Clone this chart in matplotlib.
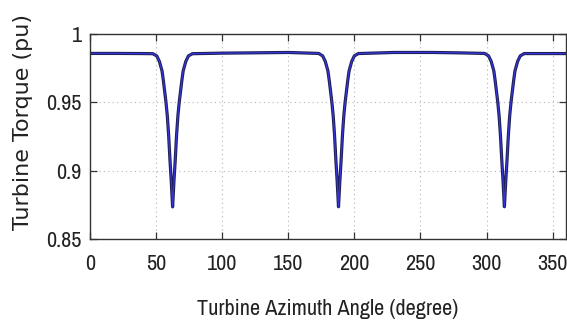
import matplotlib
matplotlib.use('Agg')
import matplotlib.pyplot as plt

# angle (degree) and torque (pu)
angle = [0, 20, 40, 47.5,
         50.5, 52.5, 54.5, 55.5, 56.5, 57.5, 58.5, 59.5, 60.5, 61.5, 62.5,
         63.5, 64.5, 65.5, 66.5, 67.5, 68.5, 69.5, 70.5, 72.5, 74.5, 77.5,
         100, 120, 150, 173,
         176, 178, 180, 181, 182, 183, 184, 185, 186, 187, 188,
         189, 190, 191, 192, 193, 194, 195, 196, 198, 200, 203,
         230, 260, 280, 298.5,
         301.5, 303.5, 305.5, 306.5, 307.5, 308.5, 309.5, 310.5, 311.5, 312.5, 313.5,
         314.5, 315.5, 316.5, 317.5, 318.5, 319.5, 320.5, 321.5, 323.5, 325.5, 328.5,
         345, 360]
torque = [0.9858, 0.9858, 0.9857, 0.9856,
          0.984, 0.980, 0.973, 0.966, 0.958, 0.950, 0.940, 0.926, 0.908, 0.892, 0.8735,
          0.892, 0.908, 0.926, 0.940, 0.950, 0.958, 0.966, 0.973, 0.980, 0.984, 0.9856,
          0.9860, 0.9862, 0.9865, 0.9858,
          0.984, 0.980, 0.973, 0.966, 0.958, 0.950, 0.940, 0.926, 0.908, 0.892, 0.8736,
          0.892, 0.908, 0.926, 0.940, 0.950, 0.958, 0.966, 0.973, 0.980, 0.984, 0.9857,
          0.9865, 0.9865, 0.9862, 0.9858,
          0.984, 0.980, 0.973, 0.966, 0.958, 0.950, 0.940, 0.926, 0.908, 0.892, 0.8736,
          0.892, 0.908, 0.926, 0.940, 0.950, 0.958, 0.966, 0.973, 0.980, 0.984, 0.9857,
          0.9857, 0.9857]

xticks = [0, 50, 100, 150, 200, 250, 300, 350]
yticks = [0.85, 0.9, 0.95, 1]
ytick_labels = ['0.85', '0.9', '0.95', '1']

narrow = ['Archivo Narrow', 'Liberation Sans']

fig = plt.figure(figsize=(5.67, 3.24), dpi=100)
ax = fig.add_axes([0.1587, 0.2623, 0.8393, 0.6327])

ax.plot(angle, torque, color='#1e1e55', lw=2.3, solid_joinstyle='round')
ax.plot(angle, torque, color='#3636d8', lw=0.9)

ax.set_xlim(0, 360)
ax.set_ylim(0.85, 1.0)
ax.set_xticks(xticks)
ax.set_yticks(yticks)
ax.set_yticklabels(ytick_labels)
ax.grid(True, color='#b5b5b5', lw=0.8, linestyle=(0, (1, 3)))

ax.tick_params(direction='in', top=True, right=True, length=5, width=0.9,
               colors='#333333')
ax.tick_params(axis='x', pad=11)
ax.tick_params(axis='y', pad=6)
for lab in ax.get_xticklabels() + ax.get_yticklabels():
    lab.set_family(narrow)
    lab.set_fontsize(16)
    lab.set_color('#222222')
for s in ax.spines.values():
    s.set_color('#333333')
    s.set_linewidth(1.0)

ax.set_xlabel('Turbine Azimuth Angle (degree)', family=narrow, fontsize=16,
              color='#222222', labelpad=18)
ax.set_ylabel('Turbine Torque (pu)', family='DejaVu Sans', fontsize=16,
              color='#222222', va='center')
ax.yaxis.set_label_coords(-0.141, 0.573)

fig.savefig('out.png', dpi=100)
